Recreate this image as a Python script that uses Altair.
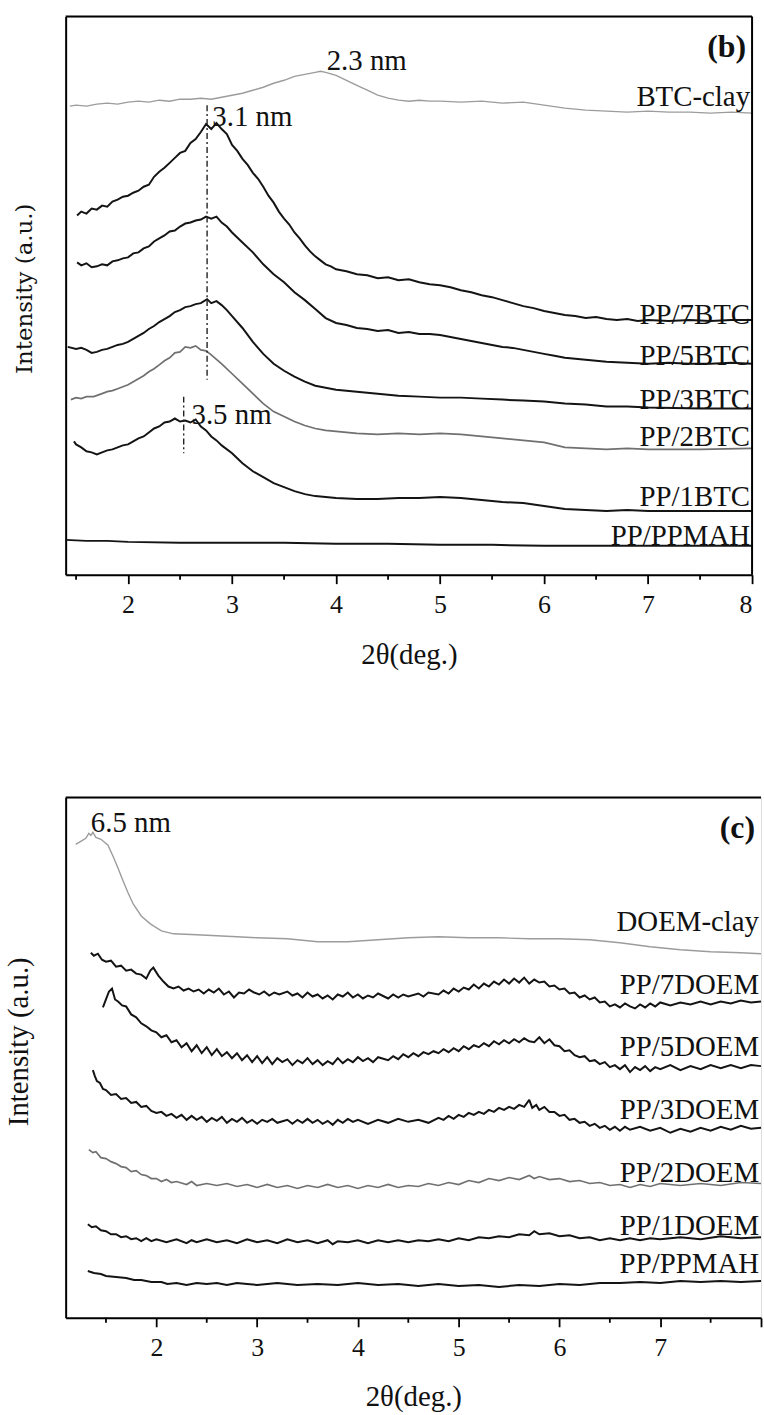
import altair as alt
import pandas as pd

# ---------------- panel (b): BTC series (2theta in deg, intensity a.u.) ----------------
btc_clay_t = [1.44, 1.5, 1.6, 1.7, 1.8, 1.9, 2.0, 2.1, 2.2, 2.3, 2.4, 2.5, 2.6, 2.7, 2.8, 2.9, 3.0, 3.1, 3.2, 3.3,
              3.4, 3.5, 3.6, 3.7, 3.8, 3.85, 3.9, 4.0, 4.1, 4.2, 4.3, 4.4, 4.5, 4.6, 4.7, 4.8, 4.9, 5.0, 5.2, 5.4,
              5.6, 5.8, 6.0, 6.2, 6.4, 6.6, 6.8, 7.0, 7.2, 7.4, 7.6, 7.8, 8.0]
btc_clay_i = [471, 472, 471, 473, 474, 473, 475, 476, 475, 477, 476, 478, 478, 479, 478, 480, 482, 484, 487, 490,
              494, 497, 501, 503, 505, 506, 505, 502, 497, 492, 487, 482, 479, 477, 476, 477, 476, 476, 475, 476,
              474, 475, 472, 469, 467, 466, 465, 466, 465, 465, 464, 465, 464]

pp7btc_t = [1.51, 1.55, 1.6, 1.65, 1.7, 1.75, 1.8, 1.85, 1.9, 1.95, 2.0, 2.05, 2.1, 2.15, 2.2, 2.25, 2.3, 2.35, 2.4,
            2.45, 2.5, 2.55, 2.6, 2.65, 2.7, 2.75, 2.8, 2.85, 2.9, 2.95, 3.0, 3.05, 3.1, 3.15, 3.2, 3.25, 3.3, 3.35,
            3.4, 3.45, 3.5, 3.55, 3.6, 3.65, 3.7, 3.75, 3.8, 3.85, 3.9, 3.95, 4.0, 4.1, 4.2, 4.3, 4.4, 4.5, 4.6,
            4.7, 4.8, 4.9, 5.0, 5.1, 5.2, 5.3, 5.4, 5.5, 5.6, 5.7, 5.8, 5.9, 6.0, 6.1, 6.2, 6.3, 6.4, 6.5, 6.6,
            6.7, 6.8, 6.9, 7.0, 7.2, 7.4, 7.6, 7.8, 8.0]
pp7btc_i = [361, 365, 363, 368, 367, 371, 370, 375, 377, 380, 381, 384, 386, 390, 392, 400, 405, 409, 414,
            419, 424, 426, 434, 438, 445, 453, 448, 454, 448, 443, 432, 426, 418, 412, 404, 398, 390, 381,
            374, 365, 358, 352, 344, 338, 331, 325, 320, 316, 312, 310, 307, 305, 302, 301, 298, 299, 296,
            297, 294, 292, 291, 289, 286, 284, 281, 279, 276, 273, 270, 268, 265, 263, 261, 260, 258, 259, 257,
            256, 257, 255, 256, 255, 256, 255, 256, 256]

pp5btc_t = [1.51, 1.55, 1.6, 1.65, 1.7, 1.75, 1.8, 1.85, 1.9, 1.95, 2.0, 2.05, 2.1, 2.15, 2.2, 2.25, 2.3, 2.35, 2.4,
            2.45, 2.5, 2.55, 2.6, 2.65, 2.7, 2.75, 2.8, 2.85, 2.9, 2.95, 3.0, 3.1, 3.2, 3.3, 3.4, 3.5, 3.6, 3.7,
            3.8, 3.9, 4.0, 4.1, 4.2, 4.3, 4.4, 4.5, 4.6, 4.7, 4.8, 4.9, 5.0, 5.1, 5.2, 5.3, 5.4, 5.5, 5.6, 5.7,
            5.8, 5.9, 6.0, 6.1, 6.2, 6.3, 6.4, 6.5, 6.6, 6.8, 7.0, 7.2, 7.4, 7.6, 7.8, 8.0]
pp5btc_i = [314, 311, 313, 309, 310, 312, 311, 315, 316, 318, 319, 323, 324, 328, 330, 335, 338, 341, 345,
            346, 350, 353, 354, 356, 357, 360, 358, 360, 354, 350, 344, 334, 324, 312, 302, 294, 284, 276,
            267, 258, 253, 251, 248, 247, 245, 246, 243, 244, 242, 242, 241, 239, 237, 235, 233, 231, 229, 228,
            226, 224, 222, 220, 218, 217, 216, 215, 214, 213, 212, 213, 212, 212, 213, 212]

pp3btc_t = [1.42, 1.5, 1.55, 1.6, 1.65, 1.7, 1.75, 1.8, 1.85, 1.9, 1.95, 2.0, 2.05, 2.1, 2.15, 2.2, 2.25, 2.3, 2.35,
            2.4, 2.45, 2.5, 2.55, 2.6, 2.65, 2.7, 2.76, 2.8, 2.85, 2.9, 2.95, 3.0, 3.1, 3.2, 3.3, 3.4, 3.5, 3.6,
            3.7, 3.8, 3.9, 4.0, 4.2, 4.4, 4.6, 4.8, 5.0, 5.2, 5.4, 5.6, 5.8, 6.0, 6.2, 6.4, 6.6, 6.8, 7.0, 7.5, 8.0]
pp3btc_i = [229, 227, 228, 226, 223, 224, 226, 227, 229, 231, 232, 234, 237, 240, 243, 247, 250, 254, 257,
            260, 264, 266, 269, 270, 272, 273, 277, 273, 275, 271, 266, 260, 248, 234, 222, 212, 205, 199,
            194, 190, 188, 186, 184, 182, 180, 179, 178, 178, 177, 176, 175, 174, 172, 171, 169, 169, 168, 167, 167]

pp2btc_t = [1.45, 1.5, 1.55, 1.6, 1.67, 1.75, 1.8, 1.85, 1.9, 1.95, 2.0, 2.05, 2.1, 2.15, 2.2, 2.25, 2.3, 2.35, 2.4,
            2.45, 2.5, 2.55, 2.6, 2.65, 2.7, 2.75, 2.8, 2.9, 3.0, 3.1, 3.2, 3.3, 3.4, 3.5, 3.6, 3.7, 3.8, 3.9, 4.0,
            4.2, 4.4, 4.6, 4.8, 5.0, 5.2, 5.4, 5.6, 5.8, 6.0, 6.2, 6.4, 6.6, 6.8, 7.0, 7.5, 8.0]
pp2btc_i = [176, 178, 177, 179, 179, 182, 184, 185, 187, 189, 191, 194, 197, 200, 204, 207, 211, 215, 218,
            223, 224, 229, 228, 230, 226, 225, 221, 212, 202, 192, 182, 172, 164, 159, 154, 150, 147, 145, 144,
            142, 141, 142, 141, 142, 141, 139, 137, 135, 133, 128, 127, 126, 127, 126, 126, 127]

pp1btc_t = [1.48, 1.5, 1.55, 1.6, 1.65, 1.7, 1.75, 1.8, 1.85, 1.9, 1.95, 2.0, 2.05, 2.1, 2.15, 2.2, 2.25, 2.3, 2.35,
            2.4, 2.45, 2.5, 2.55, 2.6, 2.65, 2.7, 2.75, 2.8, 2.85, 2.9, 3.0, 3.1, 3.2, 3.3, 3.4, 3.5, 3.6, 3.7,
            3.8, 4.0, 4.2, 4.4, 4.6, 4.8, 5.0, 5.2, 5.4, 5.6, 5.8, 6.0, 6.2, 6.4, 6.6, 6.8, 7.0, 7.5, 8.0]
pp1btc_i = [134, 131, 128, 124, 123, 121, 123, 125, 126, 128, 130, 131, 134, 137, 139, 143, 147, 149, 153,
            154, 157, 154, 155, 153, 156, 149, 145, 139, 135, 130, 122, 112, 104, 98, 92, 88, 84, 81,
            79, 77, 76, 76, 77, 77, 78, 77, 75, 73, 72, 69, 66, 65, 64, 65, 64, 64, 64]

ppmah_b_t = [1.4, 1.6, 1.8, 2.0, 2.5, 3.0, 3.5, 4.0, 4.5, 5.0, 5.5, 6.0, 6.5, 7.0, 7.5, 8.0]
ppmah_b_i = [35, 34, 34, 33, 32, 32, 32, 31, 31, 30, 30, 29, 29, 29, 29, 29]

b_names = ["BTC-clay", "PP/7BTC", "PP/5BTC", "PP/3BTC", "PP/2BTC", "PP/1BTC", "PP/PPMAH"]
b_tones = ["light", "black", "black", "black", "gray", "black", "black"]
b_label_i = [482, 263, 222, 178, 140, 80, 41]

b_note_text = ["2.3 nm", "3.1 nm", "3.5 nm"]
b_note_t = [3.91, 2.81, 2.61]
b_note_i = [518, 462, 162]
b_peak_t = [2.76, 2.535]
b_peak_top = [472, 179]
b_peak_bottom = [196, 122]

# ---------------- panel (c): DOEM series ----------------
doem_clay_t = [1.2, 1.25, 1.3, 1.33, 1.35, 1.37, 1.4, 1.45, 1.52, 1.57, 1.62, 1.67, 1.72, 1.77, 1.85, 1.94, 2.05,
               2.17, 2.4, 2.6, 2.8, 3.0, 3.3, 3.6, 3.9, 4.2, 4.5, 4.8, 5.1, 5.4, 5.7, 6.0, 6.3, 6.6, 6.9, 7.2,
               7.5, 7.8, 8.0]
doem_clay_i = [476, 479, 482, 487, 485, 488, 483, 481, 475, 464, 452, 439, 427, 416, 404, 396, 389,
               386, 385, 384, 383, 382, 381, 378, 378, 380, 382, 383, 382, 382, 381, 381, 380, 377, 373, 370,
               368, 367, 366]

pp7doem_t = [1.35, 1.38, 1.42, 1.46, 1.5, 1.55, 1.6, 1.65, 1.7, 1.75, 1.8, 1.85, 1.9, 1.94, 1.97, 2.02, 2.07,
             2.12, 2.17, 2.22, 2.27, 2.32, 2.37, 2.42, 2.47, 2.52, 2.57, 2.62, 2.67, 2.72, 2.77, 2.82, 2.87,
             2.92, 2.97, 3.02, 3.07, 3.12, 3.17, 3.22, 3.3, 3.35, 3.4, 3.45, 3.5, 3.55, 3.6, 3.65, 3.7, 3.75,
             3.8, 3.85, 3.9, 3.95, 4.0, 4.05, 4.1, 4.15, 4.2, 4.3, 4.35, 4.4, 4.45, 4.5, 4.6, 4.65, 4.7, 4.8,
             4.85, 4.9, 4.95, 5.0, 5.05, 5.1, 5.15, 5.2, 5.25, 5.3, 5.35, 5.4, 5.45, 5.5, 5.55, 5.6, 5.65,
             5.7, 5.75, 5.8, 5.85, 5.9, 5.95, 6.0, 6.05, 6.1, 6.15, 6.2, 6.25, 6.3, 6.35, 6.4, 6.45, 6.5,
             6.55, 6.6, 6.65, 6.7, 6.75, 6.8, 6.85, 6.9, 6.95, 7.0, 7.1, 7.2, 7.3, 7.4, 7.5, 7.6, 7.7, 7.8,
             7.9, 8.0]
pp7doem_i = [367, 364, 366, 360, 358, 359, 353, 354, 349, 350, 346, 345, 341, 349, 352, 344, 338,
             333, 331, 333, 329, 331, 328, 330, 326, 330, 327, 331, 325, 328, 322, 327, 326,
             330, 327, 325, 328, 324, 327, 325, 328, 324, 326, 322, 327, 323, 325, 321, 324, 320,
             325, 323, 327, 322, 325, 321, 324, 322, 326, 321, 325, 322, 325, 323, 326, 323, 327, 325,
             329, 326, 331, 328, 332, 330, 335, 331, 336, 333, 338, 335, 340, 336, 341, 337, 342,
             336, 340, 337, 338, 333, 334, 330, 331, 326, 327, 322, 324, 320, 322, 317, 318, 313,
             315, 312, 316, 313, 311, 315, 312, 316, 313, 317, 314, 317, 315, 318, 315, 318, 316, 319,
             317, 318]

pp5doem_t = [1.47, 1.5, 1.53, 1.56, 1.59, 1.62, 1.66, 1.7, 1.75, 1.8, 1.85, 1.9, 1.95, 2.0, 2.05, 2.1, 2.15,
             2.2, 2.25, 2.3, 2.35, 2.4, 2.45, 2.5, 2.55, 2.6, 2.65, 2.7, 2.75, 2.8, 2.85, 2.9, 2.95, 3.0, 3.05,
             3.1, 3.15, 3.2, 3.25, 3.3, 3.35, 3.4, 3.45, 3.5, 3.55, 3.6, 3.65, 3.7, 3.75, 3.8, 3.85, 3.9, 3.95,
             4.0, 4.05, 4.1, 4.15, 4.2, 4.3, 4.35, 4.4, 4.45, 4.5, 4.55, 4.6, 4.65, 4.7, 4.75, 4.8, 4.85, 4.9,
             4.95, 5.0, 5.05, 5.1, 5.15, 5.2, 5.25, 5.3, 5.35, 5.4, 5.45, 5.5, 5.55, 5.6, 5.65, 5.7, 5.75, 5.8,
             5.85, 5.9, 5.95, 6.0, 6.05, 6.1, 6.15, 6.2, 6.25, 6.3, 6.35, 6.4, 6.45, 6.5, 6.55, 6.6, 6.65, 6.7,
             6.75, 6.8, 6.85, 6.9, 6.95, 7.0, 7.1, 7.2, 7.3, 7.4, 7.5, 7.6, 7.7, 7.8, 7.9, 8.0]
pp5doem_i = [312, 320, 328, 331, 320, 318, 314, 313, 305, 302, 296, 293, 289, 287, 282, 284, 277,
             279, 272, 276, 268, 274, 266, 272, 264, 270, 263, 267, 261, 266, 259, 264, 257, 263, 256,
             262, 255, 261, 257, 260, 254, 259, 256, 261, 255, 259, 254, 258, 255, 261, 256, 260, 257,
             262, 258, 261, 257, 262, 259, 263, 260, 265, 262, 266, 263, 267, 265, 268, 266, 270, 267,
             271, 268, 273, 270, 274, 272, 276, 273, 278, 275, 279, 276, 280, 277, 281, 278, 277, 282,
             276, 280, 274, 273, 268, 269, 264, 262, 263, 258, 259, 255, 257, 252, 254, 250, 254, 247,
             252, 249, 253, 248, 252, 250, 254, 249, 253, 250, 254, 251, 254, 251, 254, 253]

pp3doem_t = [1.37, 1.39, 1.41, 1.44, 1.47, 1.5, 1.55, 1.6, 1.65, 1.7, 1.75, 1.8, 1.85, 1.9, 1.95, 2.0, 2.05, 2.1,
             2.15, 2.2, 2.25, 2.3, 2.35, 2.4, 2.45, 2.5, 2.55, 2.6, 2.65, 2.7, 2.75, 2.8, 2.85, 2.9, 2.95, 3.0,
             3.05, 3.1, 3.15, 3.2, 3.3, 3.35, 3.4, 3.45, 3.5, 3.55, 3.6, 3.65, 3.7, 3.75, 3.8, 3.85, 3.9, 3.95,
             4.0, 4.1, 4.2, 4.3, 4.4, 4.5, 4.6, 4.7, 4.8, 4.85, 4.9, 4.95, 5.0, 5.05, 5.1, 5.15, 5.2, 5.25, 5.3,
             5.35, 5.4, 5.45, 5.5, 5.55, 5.6, 5.65, 5.7, 5.73, 5.77, 5.8, 5.85, 5.9, 5.95, 6.0, 6.05, 6.1, 6.15,
             6.2, 6.25, 6.3, 6.35, 6.4, 6.45, 6.5, 6.55, 6.6, 6.65, 6.7, 6.8, 6.9, 7.0, 7.1, 7.2, 7.3, 7.4, 7.5,
             7.6, 7.7, 7.8, 7.9, 8.0]
pp3doem_i = [249, 243, 238, 236, 230, 229, 224, 225, 220, 221, 216, 217, 212, 213, 208, 206, 207, 203,
             205, 201, 204, 199, 203, 199, 202, 197, 201, 198, 202, 196, 200, 197, 201, 196, 199, 195,
             199, 197, 200, 196, 199, 195, 199, 196, 200, 196, 199, 195, 198, 194, 199, 196, 200, 197,
             199, 195, 199, 196, 200, 197, 199, 196, 201, 199, 203, 200, 204, 202, 206, 204, 207, 205, 209,
             207, 211, 209, 212, 210, 214, 212, 219, 211, 214, 209, 212, 207, 207, 203, 204, 199, 200,
             196, 197, 193, 195, 191, 193, 189, 192, 188, 192, 189, 192, 188, 191, 186, 190, 187, 191, 188,
             192, 189, 193, 190, 191]

pp2doem_t = [1.33, 1.37, 1.4, 1.45, 1.5, 1.55, 1.6, 1.65, 1.7, 1.75, 1.8, 1.85, 1.9, 1.95, 2.0, 2.05, 2.1, 2.15,
             2.2, 2.3, 2.35, 2.4, 2.5, 2.6, 2.7, 2.8, 2.9, 3.0, 3.1, 3.2, 3.3, 3.4, 3.5, 3.6, 3.7, 3.8, 3.9,
             4.0, 4.1, 4.2, 4.3, 4.4, 4.5, 4.6, 4.7, 4.8, 4.9, 5.0, 5.1, 5.2, 5.3, 5.4, 5.5, 5.6, 5.7, 5.75,
             5.8, 5.9, 6.0, 6.1, 6.2, 6.3, 6.4, 6.5, 6.6, 6.7, 6.8, 6.9, 7.0, 7.2, 7.4, 7.6, 7.8, 8.0]
pp2doem_i = [169, 166, 167, 161, 160, 157, 155, 152, 151, 147, 148, 144, 143, 140, 140, 137, 139, 136,
             137, 134, 137, 133, 135, 133, 135, 132, 134, 131, 134, 131, 133, 130, 133, 131, 134, 131, 133,
             130, 133, 131, 134, 131, 133, 132, 135, 133, 136, 134, 138, 136, 140, 138, 141, 139, 143, 140,
             142, 139, 140, 137, 138, 135, 136, 133, 134, 131, 134, 132, 135, 133, 135, 133, 136, 135]

pp1doem_t = [1.32, 1.36, 1.4, 1.45, 1.5, 1.55, 1.6, 1.65, 1.7, 1.75, 1.8, 1.85, 1.9, 1.95, 2.0, 2.1, 2.2, 2.3,
             2.35, 2.4, 2.5, 2.6, 2.7, 2.8, 2.9, 3.0, 3.1, 3.2, 3.3, 3.4, 3.5, 3.6, 3.7, 3.75, 3.8, 3.9, 4.0,
             4.1, 4.2, 4.3, 4.4, 4.5, 4.6, 4.7, 4.8, 4.9, 5.0, 5.1, 5.2, 5.3, 5.4, 5.5, 5.6, 5.7, 5.75, 5.8,
             5.9, 6.0, 6.1, 6.2, 6.3, 6.4, 6.5, 6.6, 6.7, 6.8, 6.9, 7.0, 7.2, 7.4, 7.6, 7.8, 8.0]
pp1doem_i = [94, 91, 92, 88, 87, 84, 84, 81, 82, 79, 80, 77, 80, 77, 79, 76, 79, 75,
             78, 76, 79, 76, 78, 75, 79, 76, 78, 75, 79, 76, 78, 75, 78, 74, 77, 76, 78,
             75, 78, 76, 78, 76, 78, 77, 79, 77, 80, 78, 81, 80, 82, 81, 84, 83, 87, 84,
             85, 82, 83, 80, 81, 78, 80, 78, 80, 78, 80, 79, 81, 79, 82, 80, 81]

ppmah_c_t = [1.32, 1.38, 1.45, 1.5, 1.6, 1.7, 1.78, 1.85, 1.95, 2.05, 2.11, 2.2, 2.3, 2.4, 2.5, 2.6, 2.7, 2.8,
             2.9, 3.0, 3.2, 3.4, 3.6, 3.8, 4.0, 4.2, 4.4, 4.6, 4.8, 5.0, 5.2, 5.4, 5.6, 5.8, 6.0, 6.2, 6.4,
             6.6, 6.8, 7.0, 7.2, 7.4, 7.6, 7.8, 8.0]
ppmah_c_i = [47, 45, 44, 42, 41, 40, 38, 38, 36, 36, 34, 35, 33, 35, 34, 35, 33, 35,
             34, 33, 35, 33, 34, 33, 35, 33, 34, 32, 34, 32, 33, 31, 33, 32, 34, 33, 35,
             35, 36, 35, 37, 36, 37, 36, 37]

c_names = ["DOEM-clay", "PP/7DOEM", "PP/5DOEM", "PP/3DOEM", "PP/2DOEM", "PP/1DOEM", "PP/PPMAH"]
c_tones = ["light", "black", "black", "black", "gray", "black", "black"]
c_label_i = [400, 337, 274, 211, 148, 94, 56]

c_note_text = ["6.5 nm"]
c_note_t = [1.35]
c_note_i = [499]

tick_values = [2, 3, 4, 5, 6, 7, 8]
minor_values = [1.5, 2.5, 3.5, 4.5, 5.5, 6.5, 7.5]

b_curves = [(btc_clay_t, btc_clay_i), (pp7btc_t, pp7btc_i), (pp5btc_t, pp5btc_i), (pp3btc_t, pp3btc_i),
            (pp2btc_t, pp2btc_i), (pp1btc_t, pp1btc_i), (ppmah_b_t, ppmah_b_i)]
c_curves = [(doem_clay_t, doem_clay_i), (pp7doem_t, pp7doem_i), (pp5doem_t, pp5doem_i), (pp3doem_t, pp3doem_i),
            (pp2doem_t, pp2doem_i), (pp1doem_t, pp1doem_i), (ppmah_c_t, ppmah_c_i)]

SERIF = "Liberation Serif"
INK = "#111111"


def lines_frame(names, tones, curves):
    rows = []
    for name, tone, (ts, vs) in zip(names, tones, curves):
        for t, v in zip(ts, vs):
            rows.append({"theta": t, "I": v, "series": name, "tone": tone})
    return pd.DataFrame(rows)


def panel(names, tones, curves, label_i, note_text, note_t, note_i, letter, letter_i, xdom, W, H,
          ytitle_font, ytitle_size, ytitle_pad, ytitle_y, xtitle_pad, hide_last, right_border,
          peak_t=None, peak_top=None, peak_bottom=None):
    x_enc = alt.X("theta:Q",
                  scale=alt.Scale(domain=xdom, nice=False, zero=False),
                  axis=alt.Axis(values=tick_values, title="2θ(deg.)", grid=False,
                                labelFont=SERIF, labelFontSize=26, labelColor=INK,
                                labelPadding=8, tickSize=9, tickWidth=1.8, tickColor="black",
                                domainColor="black", domainWidth=2,
                                titleFont=SERIF, titleFontSize=29, titleFontWeight="normal",
                                titleColor=INK, titlePadding=xtitle_pad,
                                labelExpr=("datum.value == 8 ? '' : datum.label") if hide_last else "datum.label"))
    y_enc = alt.Y("I:Q",
                  scale=alt.Scale(domain=[0, H], nice=False, zero=False),
                  axis=alt.Axis(title="Intensity (a.u.)", labels=False, ticks=False, grid=False,
                                domain=True, domainColor="black", domainWidth=2,
                                titleFont=ytitle_font, titleFontSize=ytitle_size, titleFontWeight="normal",
                                titleColor=INK, titlePadding=ytitle_pad, titleY=ytitle_y))

    df = lines_frame(names, tones, curves)
    lines = alt.Chart(df).mark_line(strokeJoin="miter", strokeMiterLimit=2).encode(
        x=x_enc, y=y_enc, detail="series:N",
        color=alt.Color("tone:N", scale=alt.Scale(domain=["black", "gray", "light"],
                                                  range=["#141414", "#707070", "#9c9c9c"]), legend=None),
        strokeWidth=alt.StrokeWidth("tone:N", scale=alt.Scale(domain=["black", "gray", "light"],
                                                              range=[2.0, 1.4, 1.2]), legend=None),
    )

    lab_df = pd.DataFrame({"theta": [xdom[1]] * len(names), "I": label_i, "label": names})
    labels = alt.Chart(lab_df).mark_text(align="right", baseline="middle", dx=-2, dy=2,
                                         font=SERIF, fontSize=29, color=INK).encode(
        x=x_enc, y=y_enc, text="label:N")

    note_df = pd.DataFrame({"theta": note_t, "I": note_i, "label": note_text})
    notes = alt.Chart(note_df).mark_text(align="left", baseline="middle", dy=2,
                                         font=SERIF, fontSize=29, color=INK).encode(
        x=x_enc, y=y_enc, text="label:N")

    let_df = pd.DataFrame({"theta": [xdom[1]], "I": [letter_i], "label": [letter]})
    letter_mark = alt.Chart(let_df).mark_text(align="right", baseline="middle", dx=-6, dy=2,
                                              font=SERIF, fontSize=32, fontWeight="bold",
                                              color=INK).encode(x=x_enc, y=y_enc, text="label:N")

    minor = alt.Chart(pd.DataFrame({"theta": minor_values})).mark_rule(
        color="black", strokeWidth=1.8).encode(x=x_enc, y=alt.value(H), y2=alt.value(H + 5))

    top = alt.Chart(pd.DataFrame({"k": [0]})).mark_rule(color="black", strokeWidth=2).encode(
        x=alt.value(0), x2=alt.value(W), y=alt.value(0))

    layers = [lines, labels, notes, letter_mark, minor, top]
    if right_border:
        layers.append(alt.Chart(pd.DataFrame({"k": [0]})).mark_rule(color="black", strokeWidth=2).encode(
            x=alt.value(W), y=alt.value(0), y2=alt.value(H)))
    if peak_t is not None:
        pk = pd.DataFrame({"theta": peak_t, "I": peak_top, "I2": peak_bottom})
        layers.append(alt.Chart(pk).mark_rule(color="#222222", strokeWidth=1.4,
                                              strokeDash=[6, 3, 2, 3]).encode(
            x=x_enc, y=y_enc, y2="I2:Q"))
    return alt.layer(*layers).properties(width=W, height=H)


pb = panel(b_names, b_tones, b_curves, b_label_i, b_note_text, b_note_t, b_note_i, "(b)", 532,
           [1.4, 8.0], 690, 561, "DejaVu Serif", 23, 29, 273, 23, False, True,
           b_peak_t, b_peak_top, b_peak_bottom)
pc = panel(c_names, c_tones, c_curves, c_label_i, c_note_text, c_note_t, c_note_i, "(c)", 494,
           [1.1, 8.0], 699, 523, SERIF, 29, 32, 245, 22, True, False)

chart = alt.vconcat(pb, pc, spacing=126).properties(
    padding={"left": 4, "top": 11, "right": 0, "bottom": 0}
).configure_view(stroke=None).configure(background="white")

chart.save("out.html", embed_options={"renderer": "svg", "actions": False})
